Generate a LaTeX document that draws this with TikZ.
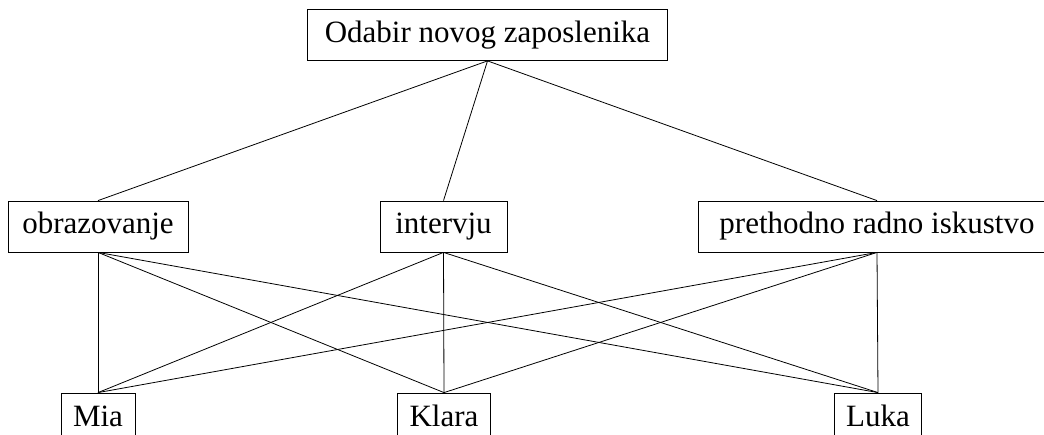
\documentclass[tikz,border=0pt]{standalone}
\usepackage{fontspec}
\setmainfont{Liberation Serif}
\begin{document}
\begin{tikzpicture}[x=1pt,y=1pt,
  box/.style={draw,line width=0.8pt,font=\fontsize{31}{36}\selectfont,inner xsep=12pt,inner ysep=0pt,minimum height=51pt,text height=22pt,text depth=7pt},
  edge/.style={line width=0.8pt}]
\useasboundingbox (0,0) rectangle (1044,434);
\node[box,minimum width=360pt] (top) at (487.5,399) {Odabir novog zaposlenika};
\node[box,minimum width=180pt] (obr) at (98,207.5) {obrazovanje};
\node[box,minimum width=127pt] (int) at (443.5,207.5) {intervju};
\node[box,minimum width=358pt] (pre) at (877,207.5) {prethodno radno iskustvo};
\node[box,minimum width=72pt] (mia) at (98,15.5) {Mia};
\node[box,minimum width=92pt] (kla) at (444,15.5) {Klara};
\node[box,minimum width=86pt] (luk) at (878,15.5) {Luka};
\foreach \m in {obr,int,pre}{
  \draw[edge] (top.south) -- (\m.north);
  \foreach \b in {mia,kla,luk}{
    \draw[edge] (\m.south) -- (\b.north);
  }
}
\end{tikzpicture}
\end{document}
